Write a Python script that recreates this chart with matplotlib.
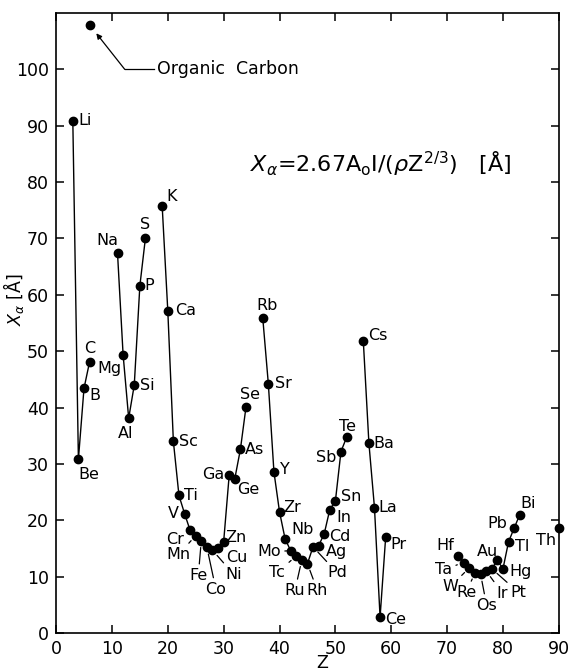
import numpy as np
import matplotlib
matplotlib.use('Agg')
import matplotlib.pyplot as plt

plt.rcParams['font.family'] = ['DejaVu Sans']
plt.rcParams['mathtext.fontset'] = 'dejavusans'

# 各组元素：名称、原子序数 Z、X_alpha 值 (Å)
grp1_name = ['Li', 'Be', 'B', 'C']
grp1_z = [3, 4, 5, 6]
grp1_x = [90.9, 30.8, 43.4, 48.1]

grp2_name = ['Na', 'Mg', 'Al', 'Si', 'P', 'S']
grp2_z = [11, 12, 13, 14, 15, 16]
grp2_x = [67.4, 49.4, 38.1, 44.0, 61.6, 70.1]

grp3_name = ['K', 'Ca', 'Sc', 'Ti', 'V', 'Cr', 'Mn', 'Fe', 'Co', 'Ni',
             'Cu', 'Zn', 'Ga', 'Ge', 'As', 'Se']
grp3_z = list(range(19, 35))
grp3_x = [75.7, 57.2, 34.0, 24.4, 21.2, 18.2, 17.3, 16.4, 15.2, 14.7,
          15.1, 16.2, 28.1, 27.4, 32.6, 40.1]

grp4_name = ['Rb', 'Sr', 'Y', 'Zr', 'Nb', 'Mo', 'Tc', 'Ru', 'Rh', 'Pd',
             'Ag', 'Cd', 'In', 'Sn', 'Sb', 'Te']
grp4_z = list(range(37, 53))
grp4_x = [55.9, 44.2, 28.6, 21.5, 16.7, 14.6, 13.7, 13.0, 12.3, 15.3,
          15.5, 17.6, 21.9, 23.4, 32.2, 34.7]

grp5_name = ['Cs', 'Ba', 'La', 'Ce', 'Pr']
grp5_z = [55, 56, 57, 58, 59]
grp5_x = [51.8, 33.7, 22.2, 2.8, 17.0]

grp6_name = ['Hf', 'Ta', 'W', 'Re', 'Os', 'Ir', 'Pt', 'Au', 'Hg', 'Tl',
             'Pb', 'Bi']
grp6_z = list(range(72, 84))
grp6_x = [13.7, 12.5, 11.6, 10.7, 10.4, 11.0, 11.4, 12.9, 11.4, 16.2,
          18.6, 21.0]

grp7_name = ['Th']
grp7_z = [90]
grp7_x = [18.7]

organic_z = 6
organic_x = 107.8

groups = [
    (grp1_name, grp1_z, grp1_x),
    (grp2_name, grp2_z, grp2_x),
    (grp3_name, grp3_z, grp3_x),
    (grp4_name, grp4_z, grp4_x),
    (grp5_name, grp5_z, grp5_x),
    (grp6_name, grp6_z, grp6_x),
    (grp7_name, grp7_z, grp7_x),
]

# 标签偏移 (像素)、对齐方式、是否带引线
lab = {
    'Li': (6, 0, 'left', 0), 'Be': (10, -15, 'center', 0),
    'B': (11, -7, 'center', 0), 'C': (0, 13, 'center', 0),
    'Na': (-10, 13, 'center', 0), 'Mg': (-14, -14, 'center', 0),
    'Al': (-3, -15, 'center', 0), 'Si': (6, 0, 'left', 0),
    'P': (5, 0, 'left', 0), 'S': (0, 13, 'center', 0),
    'K': (9, 10, 'center', 0), 'Ca': (7, 0, 'left', 0),
    'Sc': (6, 0, 'left', 0), 'Ti': (5, 0, 'left', 0),
    'V': (-6, 0, 'right', 0), 'Cr': (-6, -9, 'right', 1),
    'Mn': (-17, -19, 'center', 1), 'Fe': (-3, -35, 'center', 1),
    'Co': (9, -42, 'center', 1), 'Ni': (21, -24, 'center', 1),
    'Cu': (19, -10, 'center', 1), 'Zn': (12, 4, 'center', 0),
    'Ga': (-5, 0, 'right', 0), 'Ge': (13, -11, 'center', 0),
    'As': (4, 0, 'left', 0), 'Se': (4, 13, 'center', 0),
    'Rb': (4, 12, 'center', 0), 'Sr': (7, 0, 'left', 0),
    'Y': (6, 2, 'left', 0), 'Zr': (4, 4, 'left', 0),
    'Nb': (6, 9, 'left', 0), 'Mo': (-10, -1, 'right', 1),
    'Tc': (-19, -17, 'center', 1), 'Ru': (-7, -31, 'center', 1),
    'Rh': (10, -27, 'center', 1), 'Pd': (24, -26, 'center', 1),
    'Ag': (7, -6, 'left', 0), 'Cd': (5, -3, 'left', 0),
    'In': (7, -8, 'left', 0), 'Sn': (6, 5, 'left', 0),
    'Sb': (-5, -6, 'right', 0), 'Te': (1, 11, 'center', 0),
    'Cs': (5, 6, 'left', 0), 'Ba': (4, 0, 'left', 0),
    'La': (4, 0, 'left', 0), 'Ce': (5, -2, 'left', 0),
    'Pr': (5, -7, 'left', 0),
    'Hf': (-13, 10, 'center', 0), 'Ta': (-12, -7, 'right', 1),
    'W': (-19, -19, 'center', 1), 'Re': (-9, -20, 'center', 1),
    'Os': (6, -31, 'center', 1), 'Ir': (16, -22, 'center', 1),
    'Pt': (27, -24, 'center', 1), 'Au': (-10, 9, 'center', 0),
    'Hg': (6, -3, 'left', 0), 'Tl': (6, -5, 'left', 0),
    'Pb': (-7, 5, 'right', 0), 'Bi': (8, 11, 'center', 0),
    'Th': (-3, -13, 'right', 0),
}

fig = plt.figure(figsize=(5.72, 6.71), dpi=100)
ax = fig.add_axes([0.098, 0.0566, 0.879, 0.924])
fs = 12.5
efs = 11.5

for names, zs, xs in groups:
    ax.plot(zs, xs, '-', color='black', lw=1.0, marker='o', ms=6,
            clip_on=False, zorder=3)
    for n, z, v in zip(names, zs, xs):
        dx, dy, ha, lead = lab[n]
        kw = {}
        if lead:
            kw['arrowprops'] = dict(arrowstyle='-', lw=0.9, color='black',
                                    shrinkA=1, shrinkB=5)
        ax.annotate(n, xy=(z, v), xytext=(dx, dy), textcoords='offset pixels',
                    ha=ha, va='center', fontsize=efs, **kw)

# 有机碳
ax.plot([organic_z], [organic_x], 'o', color='black', ms=6, clip_on=False)
ax.plot([organic_z + 6.3, organic_z + 11.5], [100, 100], color='black', lw=0.9)
ax.annotate('', xy=(organic_z + 1.2, organic_x - 1.4),
            xytext=(organic_z + 6.3, 100),
            arrowprops=dict(arrowstyle='-|>', lw=0.9, color='black',
                            shrinkA=0, shrinkB=0, mutation_scale=8))
ax.text(organic_z + 12, 100, 'Organic  Carbon', fontsize=fs, va='center',
        ha='left')

ax.text(34.7, 83.3, r'$X_{\alpha}$=2.67A$_\mathrm{o}$I/($\rho$Z$^{2/3}$)   [Å]',
        fontsize=16, va='center', ha='left')

ax.set_xlim(0, 90)
ax.set_ylim(0, 110)
ax.set_xticks(np.arange(0, 91, 10))
ax.set_yticks(np.arange(0, 101, 10))
ax.tick_params(direction='in', length=6, width=1.1, labelsize=fs,
               top=True, right=True, labeltop=False, labelright=False)
ax.tick_params(axis='x', pad=5)
ax.tick_params(axis='y', pad=5)
for s in ax.spines.values():
    s.set_linewidth(1.2)

fig.text(14 / 572, 1 - 300 / 671, r'$X_{\alpha}$ [Å]', rotation=90,
         fontsize=fs, ha='center', va='center')
fig.text(322 / 572, 1 - 654 / 671, 'Z', fontsize=fs, ha='center', va='top')

fig.savefig('out.png', dpi=100)
